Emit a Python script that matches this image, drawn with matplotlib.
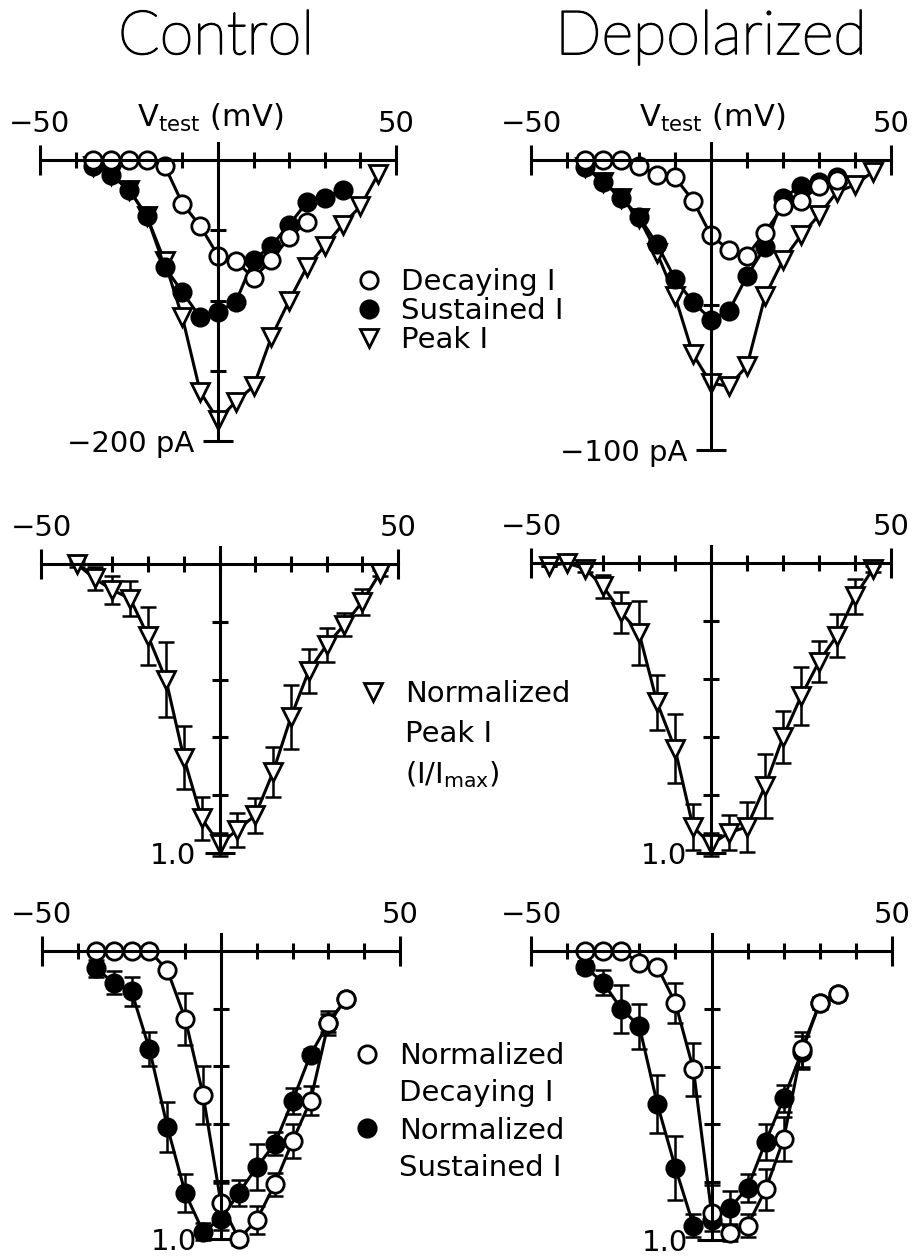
import matplotlib
matplotlib.use("Agg")
import matplotlib.pyplot as plt
import matplotlib.patheffects as pe
from matplotlib.lines import Line2D

# ---- data ----
# top row: raw currents (pA)
v_top = [-35, -30, -25, -20, -15, -10, -5, 0, 5, 10, 15, 20, 25, 30, 35]
v_top_peak = [-35, -30, -25, -20, -15, -10, -5, 0, 5, 10, 15, 20, 25, 30, 35, 40, 45]

ctrl_decay_v = [-35, -30, -25, -20, -15, -10, -5, 0, 5, 10, 15, 20, 25]
ctrl_decay = [0, 0, 0, 0, -4, -31, -47, -68, -72, -84, -71, -55, -44]
ctrl_sust = [-4, -11, -21, -40, -76, -94, -112, -108, -101, -71, -61, -46, -30, -27, -21]
ctrl_peak = [-4, -11, -21, -40, -72, -112, -165, -185, -172, -161, -126, -100, -76, -61, -46, -33, -10]

dep_decay = [0, 0, 0, -2, -5, -6, -14, -26, -31, -33, -25, -16, -14, -9, -7]
dep_sust = [-2.3, -7.5, -13, -19.5, -29, -41, -49, -55, -52, -40, -30, -13, -9, -7.5, -5.7]
dep_peak = [-2.3, -7.5, -13, -20, -32, -47, -67, -77, -78, -71, -47, -34.5, -26, -19, -11, -8.6, -4]

# middle row: normalized peak current
v_mid_ctrl = [-40, -35, -30, -25, -20, -15, -10, -5, 0, 5, 10, 15, 20, 25, 30, 35, 40, 45]
mid_ctrl = [0.0, 0.05, 0.09, 0.12, 0.25, 0.40, 0.67, 0.88, 0.97, 0.92, 0.87, 0.72, 0.53, 0.37, 0.28, 0.21, 0.13, 0.03]
mid_ctrl_err = [0.01, 0.04, 0.05, 0.06, 0.10, 0.13, 0.11, 0.075, 0.04, 0.06, 0.06, 0.087, 0.11, 0.075, 0.06, 0.04, 0.045, 0.01]

v_mid_dep = [-45, -40, -35, -30, -25, -20, -15, -10, -5, 0, 5, 10, 15, 20, 25, 30, 35, 40, 45]
mid_dep = [0.01, 0.0, 0.02, 0.08, 0.17, 0.24, 0.48, 0.64, 0.91, 0.97, 0.93, 0.91, 0.77, 0.60, 0.46, 0.34, 0.25, 0.115, 0.02]
mid_dep_err = [0.0, 0.0, 0.01, 0.04, 0.07, 0.11, 0.095, 0.12, 0.08, 0.04, 0.06, 0.085, 0.11, 0.09, 0.10, 0.07, 0.075, 0.06, 0.01]

# bottom row: normalized decaying / sustained current
v_bot = [-35, -30, -25, -20, -15, -10, -5, 0, 5, 10, 15, 20, 25, 30, 35]
bot_ctrl_decay = [0, 0, 0, 0, 0.066, 0.235, 0.50, 0.876, 1.0, 0.934, 0.81, 0.66, 0.52, 0.25, 0.165]
bot_ctrl_decay_err = [0, 0, 0, 0, 0.01, 0.09, 0.10, 0.07, 0.02, 0.05, 0.04, 0.06, 0.05, 0.03, 0.01]
bot_ctrl_sust = [0.06, 0.11, 0.14, 0.34, 0.61, 0.84, 0.975, 0.93, 0.84, 0.75, 0.67, 0.52, 0.36, 0.25, 0.165]
bot_ctrl_sust_err = [0.03, 0.04, 0.05, 0.06, 0.087, 0.066, 0.03, 0.04, 0.046, 0.08, 0.04, 0.046, 0.02, 0.04, 0.01]

bot_dep_decay = [0, 0, 0, 0.04, 0.055, 0.18, 0.41, 0.905, 0.975, 0.95, 0.825, 0.65, 0.34, 0.18, 0.15]
bot_dep_decay_err = [0, 0, 0, 0.01, 0.01, 0.07, 0.09, 0.095, 0.03, 0.04, 0.07, 0.075, 0.06, 0.02, 0.02]
bot_dep_sust = [0.055, 0.11, 0.20, 0.26, 0.53, 0.75, 0.95, 0.93, 0.89, 0.82, 0.66, 0.51, 0.35, 0.18, 0.15]
bot_dep_sust_err = [0.02, 0.043, 0.083, 0.078, 0.10, 0.11, 0.04, 0.04, 0.06, 0.05, 0.063, 0.046, 0.057, 0.02, 0.01]

W, H = 914, 1256
LW = 2.2
FS = 21
MS = 12.5

fig = plt.figure(figsize=(W / 100, H / 100), dpi=100)


def px_axes(x0, x1, y_top, y_bot):
    return fig.add_axes([x0 / W, 1 - y_bot / H, (x1 - x0) / W, (y_bot - y_top) / H])


def style_axes(ax, ybot, ylabel, minor):
    ax.set_xlim(-50, 50)
    ax.set_ylim(ybot, 0)  # 0 always at the top (normalized rows are inverted)
    ax.patch.set_visible(False)
    for s in ('right', 'bottom'):
        ax.spines[s].set_visible(False)
    ax.spines['top'].set_position(('data', 0))
    ax.spines['left'].set_position(('data', 0))
    ax.spines['left'].set_bounds(ybot, -0.06 * ybot)
    for s in ('top', 'left'):
        ax.spines[s].set_linewidth(LW)
    ax.xaxis.set_ticks_position('top')
    ax.set_xticks([-50, 50], ['\u221250', '50'])
    ax.set_xticks(range(-40, 50, 10), minor=True)
    ax.yaxis.set_ticks_position('left')
    ax.set_yticks([ybot], [ylabel])
    ax.set_yticks(minor, minor=True)
    ax.tick_params(which='major', direction='inout', length=22, width=LW, labelsize=FS)
    ax.tick_params(axis='x', which='major', pad=5)
    ax.tick_params(axis='y', which='major', pad=6)
    ax.tick_params(which='minor', direction='inout', length=12, width=LW)


def curve(ax, v, y, marker, filled, err=None):
    if err is not None:
        eb = ax.errorbar(v, y, yerr=err, fmt='none', ecolor='k', elinewidth=1.8,
                         capsize=5.5, capthick=1.8)
        for art in eb.get_children():
            art.set_clip_on(False)
    ax.plot(v, y, '-', color='k', lw=LW, marker=marker, ms=MS, mew=2.0,
            mec='k', mfc='k' if filled else 'white', clip_on=False)


def legend(ax, entries, x, y, spacing):
    handles, labels = [], []
    for m, filled, lab in entries:
        if m is None:
            handles.append(Line2D([], [], ls='none', marker='none'))
        else:
            handles.append(Line2D([], [], ls='none', marker=m, ms=MS, mew=2.0,
                                  mec='k', mfc='k' if filled else 'white'))
        labels.append(lab)
    ax.legend(handles, labels, loc='upper left', bbox_to_anchor=(x / W, 1 - y / H),
              bbox_transform=fig.transFigure, frameon=False, fontsize=FS,
              handlelength=1.0, handletextpad=0.6, borderpad=0, borderaxespad=0,
              labelspacing=spacing)


# ---- top row ----
ax1 = px_axes(40, 396, 160, 441)
style_axes(ax1, -200, '\u2212200 pA', [-50, -100, -150])
curve(ax1, v_top_peak, ctrl_peak, 'v', False)
curve(ax1, v_top, ctrl_sust, 'o', True)
curve(ax1, ctrl_decay_v, ctrl_decay, 'o', False)
legend(ax1, [('o', False, 'Decaying I'), ('o', True, 'Sustained I'), ('v', False, 'Peak I')],
       354, 268, 0.04)

ax2 = px_axes(531, 891, 160, 450)
style_axes(ax2, -100, '\u2212100 pA', [-25, -50, -75])
curve(ax2, v_top_peak, dep_peak, 'v', False)
curve(ax2, v_top, dep_sust, 'o', True)
curve(ax2, v_top, dep_decay, 'o', False)

# ---- middle row ----
ax3 = px_axes(41, 398, 564, 853)
style_axes(ax3, 1.0, '1.0', [0.2, 0.4, 0.6, 0.8])
curve(ax3, v_mid_ctrl, mid_ctrl, 'v', False, mid_ctrl_err)
legend(ax3, [('v', False, 'Normalized'), (None, False, 'Peak I'),
             (None, False, r'(I/I$_{\mathregular{max}}$)')], 358, 680, 0.40)

ax4 = px_axes(531, 891, 563, 853)
style_axes(ax4, 1.0, '1.0', [0.2, 0.4, 0.6, 0.8])
curve(ax4, v_mid_dep, mid_dep, 'v', False, mid_dep_err)

# ---- bottom row ----
ax5 = px_axes(42, 400, 951, 1239)
style_axes(ax5, 1.0, '1.0', [0.2, 0.4, 0.6, 0.8])
curve(ax5, v_bot, bot_ctrl_sust, 'o', True, bot_ctrl_sust_err)
curve(ax5, v_bot, bot_ctrl_decay, 'o', False, bot_ctrl_decay_err)
legend(ax5, [('o', False, 'Normalized'), (None, False, 'Decaying I'),
             ('o', True, 'Normalized'), (None, False, 'Sustained I')], 352, 1042, 0.32)

ax6 = px_axes(531, 892, 951, 1240)
style_axes(ax6, 1.0, '1.0', [0.2, 0.4, 0.6, 0.8])
curve(ax6, v_bot, bot_dep_sust, 'o', True, bot_dep_sust_err)
curve(ax6, v_bot, bot_dep_decay, 'o', False, bot_dep_decay_err)

# ---- titles and axis labels ----
title_font = dict(fontsize=44, family=['Lato', 'DejaVu Sans'], fontweight='light',
                  path_effects=[pe.withStroke(linewidth=1.2, foreground='k')])
fig.text(216 / W, 1 - 54 / H, 'Control', ha='center', va='baseline', **title_font)
fig.text(711 / W, 1 - 54 / H, 'Depolarized', ha='center', va='baseline', **title_font)
for xc in (210, 712):
    fig.text(xc / W, 1 - 127 / H, r'V$_{\mathregular{test}}$ (mV)', ha='center',
             va='baseline', fontsize=22)

fig.savefig('out.png', dpi=100)
